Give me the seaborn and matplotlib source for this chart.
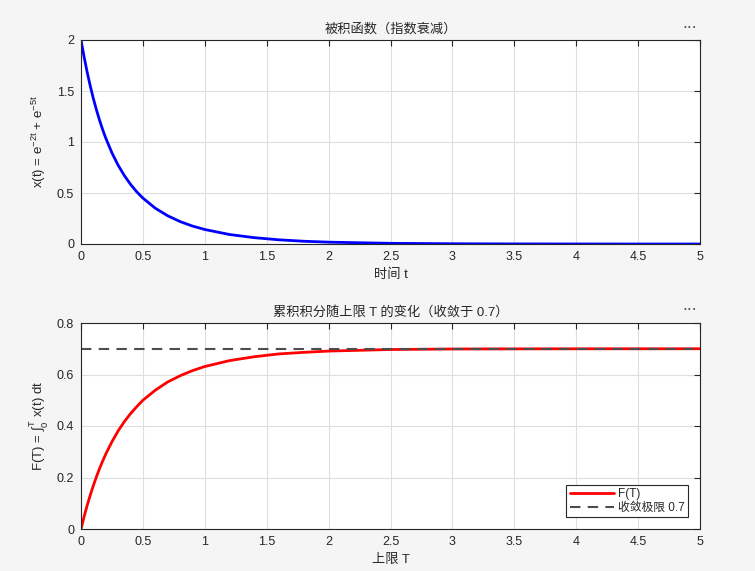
import matplotlib
matplotlib.use("Agg")
import matplotlib.pyplot as plt
import seaborn as sns
import numpy as np
from matplotlib.ticker import FuncFormatter, MultipleLocator

# ---- data ----
t_vals = [0, 0.025, 0.05, 0.075, 0.1, 0.125, 0.15, 0.175, 0.2, 0.25, 0.3, 0.35, 0.4, 0.45, 0.5,
          0.6, 0.7, 0.8, 0.9, 1.0, 1.2, 1.4, 1.6, 1.8, 2.0, 2.5, 3.0, 3.5, 4.0, 4.5, 5.0]
x_vals = [2.0, 1.834, 1.684, 1.548, 1.425, 1.314, 1.213, 1.121, 1.038, 0.893, 0.772, 0.671,
          0.585, 0.512, 0.450, 0.351, 0.277, 0.220, 0.176, 0.142, 0.093, 0.062, 0.041,
          0.027, 0.018, 0.0067, 0.0025, 0.0009, 0.0003, 0.0001, 0.00005]
F_vals = [0.0, 0.048, 0.092, 0.132, 0.169, 0.203, 0.235, 0.264, 0.291, 0.339, 0.381, 0.417,
          0.448, 0.475, 0.500, 0.539, 0.571, 0.595, 0.615, 0.631, 0.654, 0.669, 0.680,
          0.686, 0.691, 0.697, 0.699, 0.6995, 0.6998, 0.6999, 0.700]
limit_value = 0.7

top_title = "被积函数（指数衰减）"
top_xlabel = "时间 t"
top_ylabel = r"x(t) = e$^{\mathrm{-2t}}$ + e$^{\mathrm{-5t}}$"
bot_title = "累积积分随上限 T 的变化（收敛于 0.7）"
bot_xlabel = "上限 T"
bot_ylabel = r"F(T) = $\int_0^T$ x(t) dt"
legend_labels = ["F(T)", "收敛极限 0.7"]

sns.set_theme(style="white")
plt.rcParams['font.family'] = ['Liberation Sans', 'Noto Sans CJK SC', 'DejaVu Sans']
plt.rcParams['mathtext.fontset'] = 'custom'
plt.rcParams['mathtext.rm'] = 'Liberation Sans'
plt.rcParams['mathtext.it'] = 'Liberation Sans'
plt.rcParams['mathtext.bf'] = 'Liberation Sans:bold'
plt.rcParams['mathtext.fallback'] = 'stixsans'
plt.rcParams['axes.unicode_minus'] = False

txt_color = "#262626"
fig = plt.figure(figsize=(7.55, 5.71), dpi=100, facecolor="#f5f5f5")
ax1 = fig.add_axes([81/755, 1-244/571, 619/755, 204/571])
ax2 = fig.add_axes([81/755, 1-529/571, 619/755, 206/571])

sns.lineplot(x=t_vals, y=x_vals, ax=ax1, color="#0000ff", linewidth=2, estimator=None, sort=False)
sns.lineplot(x=t_vals, y=F_vals, ax=ax2, color="#ff0000", linewidth=2, estimator=None, sort=False,
             label=legend_labels[0])
ax2.axhline(limit_value, color="#4d4d4d", linewidth=1.5, linestyle=(0, (5, 3.5)),
            label=legend_labels[1])

fmt = FuncFormatter(lambda v, p: f"{v:g}")
for ax, ylim, ystep in [(ax1, (0, 2), 0.5), (ax2, (0, 0.8), 0.2)]:
    ax.set_facecolor("white")
    ax.set_xlim(0, 5)
    ax.set_ylim(*ylim)
    ax.xaxis.set_major_locator(MultipleLocator(0.5))
    ax.yaxis.set_major_locator(MultipleLocator(ystep))
    ax.xaxis.set_major_formatter(fmt)
    ax.yaxis.set_major_formatter(fmt)
    ax.grid(True, color="#dedede", linewidth=0.8)
    ax.tick_params(direction="in", length=4, width=0.8, top=True, right=True,
                   labelsize=9, colors=txt_color)
    ax.tick_params(axis="x", pad=5)
    ax.tick_params(axis="y", pad=5)
    for s in ax.spines.values():
        s.set_color("#262626")
        s.set_linewidth(0.8)

ax1.set_title(top_title, fontsize=9.5, color=txt_color, pad=5)
ax1.set_xlabel(top_xlabel, fontsize=9.5, color=txt_color, labelpad=4)
ax1.set_ylabel(top_ylabel, fontsize=9.5, color=txt_color, labelpad=6)
ax2.set_title(bot_title, fontsize=9.5, color=txt_color, pad=5)
ax2.set_xlabel(bot_xlabel, fontsize=9.5, color=txt_color, labelpad=4)
ax2.set_ylabel(bot_ylabel, fontsize=9.5, color=txt_color, labelpad=4)

leg = ax2.legend(loc="lower right", fontsize=8.5, frameon=True, fancybox=False,
                 edgecolor="#262626", framealpha=1, borderpad=0.3, handlelength=3.8,
                 labelspacing=0.1, handletextpad=0.3, borderaxespad=1.0)
leg.get_frame().set_linewidth(0.8)

for yy in (28, 311):
    fig.text(690/755, 1-yy/571, "···", ha="center", va="center", fontsize=11,
             color="#555555", family="DejaVu Sans")

fig.savefig("out.png", dpi=100, facecolor=fig.get_facecolor())
